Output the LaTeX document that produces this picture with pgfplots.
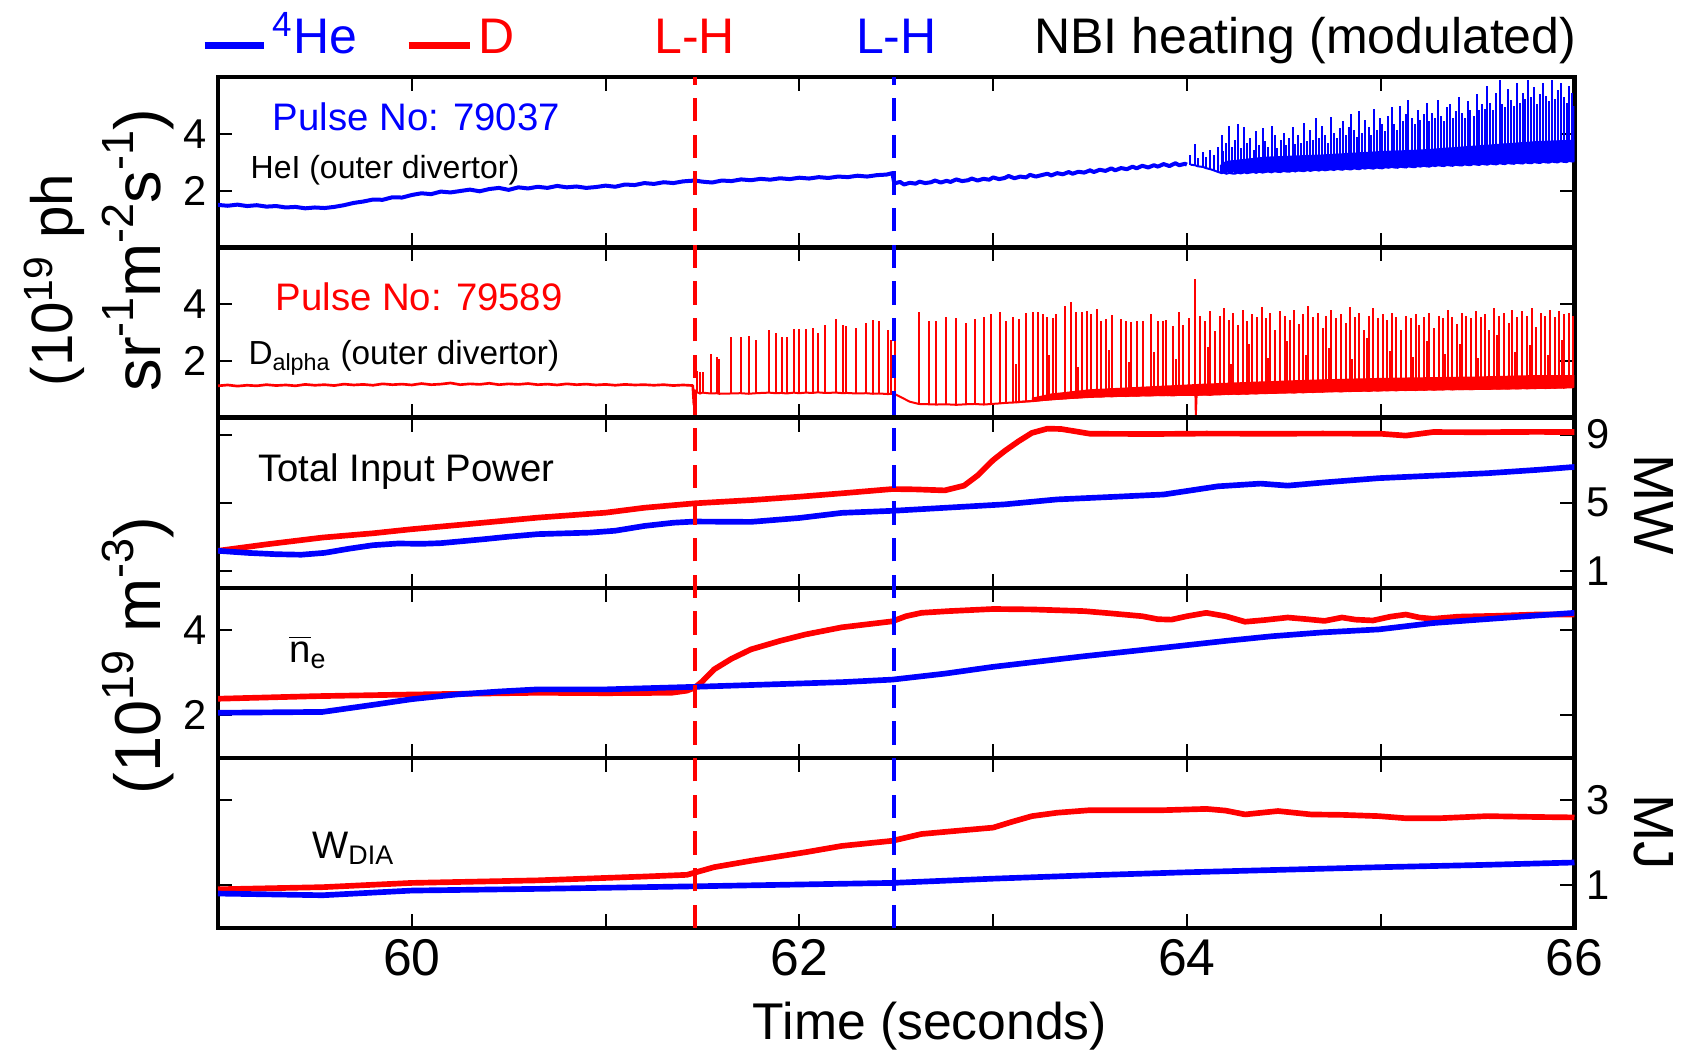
\documentclass[border=0pt]{standalone}
\usepackage{fontspec}
\setmainfont{Liberation Sans}
\usepackage{pgfplots}
\usepackage{pgfplotstable}
\pgfplotsset{compat=1.18}

\newcommand\sups[1]{\raisebox{0.42em}{\fontsize{13.5}{14}\selectfont #1}}

\pgfplotsset{
 panel/.style={
  scale only axis, width=406.95pt, height=51.04pt,
  xmin=59, xmax=66,
  xtick={59,...,66}, xticklabels={},
  tick align=inside, tick pos=both,
  major tick length=4.2pt,
  tick style={black, line width=0.6pt},
  axis line style={line width=1.3pt},
  yticklabel style={font=\fontsize{12.5}{14}\selectfont},
  xticklabel style={font=\fontsize{15.5}{18}\selectfont},
  /pgf/number format/assume math mode=true,
  anchor=south west,
 },
 thickline/.style={line width=1.7pt, line join=round, mark=none},
 spikes/.style={mark=none, line width=0.6pt, error bars/.cd, y dir=plus, y explicit, error mark=none, error bar style={line width=0.6pt}},
}

% Panel 1 spikes (HeI): t, base, peak
\pgfplotstableread[row sep=\\]{
t b p\\
64.018 2.92 3.25\\ 64.041 2.90 3.66\\ 64.058 2.86 3.15\\ 64.083 2.84 3.35\\ 64.097 2.80 3.20\\
64.121 2.76 3.45\\ 64.138 2.72 3.25\\ 64.162 2.66 3.55\\ 64.179 2.62 3.95\\ 64.188 2.64 3.40\\
64.204 2.60 3.70\\ 64.219 2.63 4.30\\ 64.231 2.61 3.55\\ 64.248 2.60 3.80\\ 64.262 2.64 4.35\\
64.277 2.61 3.50\\ 64.296 2.65 4.25\\ 64.309 2.62 3.70\\ 64.325 2.64 3.85\\ 64.344 2.66 3.45\\
64.357 2.63 4.10\\ 64.373 2.67 3.60\\ 64.391 2.64 4.20\\ 64.404 2.66 3.75\\ 64.418 2.68 3.55\\
64.437 2.65 4.30\\ 64.452 2.69 3.95\\ 64.466 2.67 3.50\\ 64.483 2.66 3.80\\ 64.499 2.70 4.05\\
64.511 2.68 3.60\\ 64.528 2.67 3.85\\ 64.546 2.71 4.25\\ 64.559 2.68 3.65\\ 64.575 2.72 3.95\\
64.591 2.70 3.70\\ 64.604 2.69 4.40\\ 64.622 2.73 3.75\\ 64.637 2.70 4.15\\ 64.649 2.72 3.80\\
64.664 2.74 4.55\\ 64.681 2.71 3.85\\ 64.697 2.75 4.30\\ 64.712 2.72 3.95\\ 64.729 2.74 3.70\\
64.741 2.76 4.60\\ 64.758 2.73 4.05\\ 64.777 2.77 3.85\\ 64.791 2.75 4.20\\ 64.803 2.74 4.45\\
64.819 2.78 3.95\\ 64.834 2.76 4.25\\ 64.846 2.75 4.70\\ 64.862 2.79 4.15\\ 64.878 2.77 3.90\\
64.889 2.76 4.80\\ 64.905 2.80 4.05\\ 64.919 2.78 4.50\\ 64.937 2.81 4.25\\ 64.951 2.79 3.95\\
64.963 2.78 4.90\\ 64.979 2.82 4.15\\ 64.994 2.80 4.55\\ 65.008 2.79 4.35\\ 65.024 2.83 4.10\\
65.039 2.81 4.65\\ 65.057 2.84 4.95\\ 65.071 2.82 4.35\\ 65.086 2.81 4.15\\ 65.102 2.85 5.00\\
65.117 2.83 4.45\\ 65.131 2.82 4.70\\ 65.143 2.86 5.20\\ 65.159 2.84 4.55\\ 65.176 2.83 4.35\\
65.191 2.87 4.85\\ 65.204 2.85 4.50\\ 65.222 2.88 4.70\\ 65.238 2.86 5.10\\ 65.251 2.85 4.45\\
65.267 2.89 4.75\\ 65.281 2.87 4.55\\ 65.296 2.90 5.20\\ 65.313 2.88 4.65\\ 65.327 2.87 4.45\\
65.342 2.91 4.95\\ 65.358 2.89 5.05\\ 65.371 2.88 4.55\\ 65.386 2.92 4.80\\ 65.402 2.90 5.30\\
65.419 2.89 4.75\\ 65.433 2.93 4.55\\ 65.448 2.91 5.15\\ 65.462 2.90 4.85\\ 65.479 2.94 4.65\\
65.496 2.92 5.40\\ 65.509 2.91 4.85\\ 65.523 2.95 5.05\\ 65.538 2.93 4.90\\ 65.551 2.92 5.70\\
65.566 2.96 5.10\\ 65.582 2.94 4.85\\ 65.597 2.93 5.45\\ 65.613 2.97 5.90\\ 65.628 2.95 5.05\\
65.641 2.94 4.95\\ 65.657 2.98 5.60\\ 65.672 2.96 5.20\\ 65.688 2.95 5.00\\ 65.701 2.99 5.80\\
65.717 2.97 5.10\\ 65.733 2.96 5.45\\ 65.746 3.00 5.25\\ 65.761 2.98 5.90\\ 65.778 2.97 5.30\\
65.792 3.01 5.65\\ 65.807 2.99 5.05\\ 65.823 2.98 5.40\\ 65.838 3.02 5.80\\ 65.852 3.00 5.35\\
65.869 2.99 5.15\\ 65.884 3.03 5.90\\ 65.897 3.01 5.25\\ 65.913 3.00 5.55\\ 65.928 3.04 5.80\\
65.944 3.02 5.30\\ 65.959 3.01 5.10\\ 65.972 3.05 5.70\\ 65.988 3.03 5.45\\ 66.000 3.04 5.00\\
}\spone

% Panel 2 spikes (D alpha): t, base, peak
\pgfplotstableread[row sep=\\]{
t b p\\
61.470 0.90 1.66\\ 61.487 0.85 1.60\\ 61.501 0.88 1.60\\ 61.542 0.85 2.26\\ 61.573 0.86 2.14\\
61.587 0.84 2.08\\ 61.645 0.85 2.85\\ 61.697 0.86 2.83\\ 61.739 0.84 2.89\\ 61.776 0.86 2.73\\
61.844 0.88 3.09\\ 61.879 0.86 2.97\\ 61.908 0.87 2.83\\ 61.934 0.85 2.85\\ 61.971 0.88 3.12\\
61.999 0.86 3.12\\ 62.033 0.88 3.11\\ 62.068 0.87 3.15\\ 62.095 0.89 2.97\\ 62.131 0.87 3.27\\
62.191 0.88 3.48\\ 62.226 0.86 3.27\\ 62.243 0.87 3.23\\ 62.294 0.85 3.15\\ 62.346 0.86 3.33\\
62.380 0.84 3.44\\ 62.411 0.85 3.39\\ 62.458 0.83 3.09\\ 62.473 0.84 2.73\\ 62.495 0.82 3.30\\
62.530 0.70 0.70\\ 62.570 0.56 0.56\\
62.617 0.48 3.72\\ 62.667 0.47 3.41\\ 62.707 0.46 3.41\\ 62.755 0.47 3.54\\ 62.810 0.45 3.52\\
62.861 0.47 3.33\\ 62.904 0.48 3.48\\ 62.952 0.46 3.54\\ 62.990 0.48 3.66\\ 63.033 0.50 3.72\\
63.067 0.52 3.39\\ 63.102 0.53 3.54\\ 63.136 0.55 3.48\\ 63.171 0.57 3.68\\ 63.205 0.58 3.71\\
63.231 0.60 3.74\\ 63.256 0.62 3.66\\ 63.277 0.63 3.56\\ 63.308 0.65 3.50\\ 63.325 0.66 3.66\\
63.373 0.68 3.95\\ 63.402 0.70 4.07\\ 63.428 0.70 3.71\\ 63.459 0.72 3.71\\ 63.483 0.73 3.76\\
63.505 0.74 3.66\\ 63.535 0.75 3.82\\ 63.557 0.74 3.41\\ 63.583 0.76 3.48\\ 63.614 0.75 3.63\\
63.660 0.77 3.48\\ 63.686 0.76 3.39\\ 63.712 0.78 3.37\\ 63.741 0.77 3.39\\ 63.772 0.79 3.41\\
63.815 0.78 3.66\\ 63.849 0.80 3.41\\ 63.875 0.79 3.41\\ 63.892 0.80 3.44\\ 63.930 0.78 3.23\\
63.961 0.81 3.72\\ 63.978 0.80 3.27\\ 64.010 0.80 3.50\\ 64.044 0.80 4.87\\ 64.046 0.10 0.10\\
64.050 0.80 0.80\\
64.070 0.81 3.60\\ 64.095 0.82 3.40\\ 64.120 0.80 3.75\\ 64.145 0.83 3.05\\ 64.170 0.82 3.60\\
64.190 0.84 3.85\\ 64.215 0.83 3.45\\ 64.240 0.85 3.70\\ 64.265 0.83 3.25\\ 64.290 0.86 3.80\\
64.310 0.84 3.40\\ 64.335 0.87 3.65\\ 64.360 0.85 3.55\\ 64.385 0.88 3.90\\ 64.410 0.86 3.50\\
64.430 0.88 3.70\\ 64.455 0.87 3.10\\ 64.480 0.89 3.75\\ 64.505 0.88 3.60\\ 64.530 0.90 3.45\\
64.555 0.88 3.80\\ 64.580 0.91 3.30\\ 64.600 0.89 3.65\\ 64.625 0.92 3.95\\ 64.650 0.90 3.55\\
64.675 0.92 3.70\\ 64.700 0.91 3.15\\ 64.720 0.93 3.60\\ 64.745 0.92 3.80\\ 64.770 0.94 3.50\\
64.795 0.92 3.65\\ 64.820 0.95 3.35\\ 64.840 0.93 3.90\\ 64.865 0.95 3.55\\ 64.890 0.94 3.70\\
64.915 0.96 3.10\\ 64.940 0.94 3.60\\ 64.960 0.97 3.85\\ 64.985 0.95 3.50\\ 65.010 0.97 3.65\\
65.035 0.96 3.45\\ 65.060 0.98 3.70\\ 65.080 0.96 3.55\\ 65.105 0.98 3.10\\ 65.130 0.97 3.60\\
65.155 0.99 3.50\\ 65.180 0.97 3.65\\ 65.200 0.99 3.25\\ 65.225 0.98 3.55\\ 65.250 1.00 3.70\\
65.275 0.98 3.15\\ 65.300 1.00 3.60\\ 65.320 0.99 3.50\\ 65.345 1.01 3.80\\ 65.370 0.99 3.55\\
65.395 1.01 3.30\\ 65.420 1.00 3.70\\ 65.440 1.02 3.60\\ 65.465 1.00 3.50\\ 65.490 1.02 3.75\\
65.515 1.01 3.55\\ 65.540 1.03 3.65\\ 65.560 1.01 3.10\\ 65.585 1.03 3.85\\ 65.610 1.02 3.60\\
65.635 1.04 3.70\\ 65.660 1.02 3.35\\ 65.680 1.04 3.80\\ 65.705 1.03 3.55\\ 65.730 1.05 3.75\\
65.755 1.03 3.60\\ 65.780 1.05 3.85\\ 65.800 1.04 3.20\\ 65.825 1.06 3.70\\ 65.850 1.04 3.60\\
65.875 1.06 3.80\\ 65.900 1.05 3.55\\ 65.920 1.07 3.75\\ 65.945 1.05 3.65\\ 65.970 1.07 3.70\\
65.990 1.06 3.60\\
}\sptwo

% Panel 2 smaller spikes in between
\pgfplotstableread[row sep=\\]{
t b p\\
63.120 0.54 1.90\\ 63.290 0.64 2.20\\ 63.440 0.71 1.80\\ 63.600 0.76 2.40\\ 63.700 0.77 1.95\\
63.830 0.79 2.30\\ 63.945 0.80 2.05\\ 64.107 0.81 2.50\\ 64.228 0.84 1.90\\ 64.322 0.85 2.60\\
64.420 0.87 2.10\\ 64.517 0.89 2.70\\ 64.612 0.90 2.20\\ 64.733 0.93 2.45\\ 64.853 0.94 2.05\\
64.928 0.95 2.80\\ 65.048 0.97 2.35\\ 65.168 0.98 2.15\\ 65.238 0.99 2.70\\ 65.333 1.00 2.25\\
65.408 1.00 2.60\\ 65.502 1.01 2.10\\ 65.598 1.02 2.90\\ 65.693 1.03 2.30\\ 65.768 1.04 2.55\\
65.862 1.05 2.20\\ 65.933 1.06 2.75\\
}\sptwosmall

\begin{document}
\begin{tikzpicture}
\path[use as bounding box] (-65.4pt,-36.9pt) rectangle (439.8pt,278.4pt);

% ---------------- Panel 1: HeI ----------------
\begin{axis}[panel, at={(0pt,204.16pt)}, ymin=0, ymax=6, ytick={2,4}, yticklabel pos=left]
\addplot[blue, line width=1.2pt, mark=none, line join=round] coordinates {
(59.00,1.50) (59.05,1.47) (59.10,1.51) (59.15,1.46) (59.20,1.49) (59.25,1.44) (59.30,1.46) (59.35,1.41)
(59.40,1.43) (59.45,1.38) (59.50,1.41) (59.55,1.39) (59.60,1.43) (59.65,1.49) (59.70,1.57) (59.75,1.62)
(59.80,1.69) (59.85,1.68) (59.90,1.77) (59.95,1.76) (60.00,1.85) (60.05,1.91) (60.10,1.88) (60.15,1.97)
(60.20,1.94) (60.25,1.99) (60.30,2.04) (60.35,1.98) (60.40,2.06) (60.45,2.10) (60.50,2.03) (60.55,2.12)
(60.60,2.08) (60.65,2.14) (60.70,2.10) (60.75,2.17) (60.80,2.12) (60.85,2.15) (60.90,2.10) (60.95,2.13)
(61.00,2.18) (61.05,2.14) (61.10,2.22) (61.15,2.20) (61.20,2.27) (61.25,2.24) (61.30,2.30) (61.35,2.27)
(61.40,2.33) (61.46,2.36) (61.50,2.32) (61.55,2.29) (61.60,2.36) (61.65,2.34) (61.70,2.40) (61.75,2.37)
(61.80,2.42) (61.85,2.39) (61.90,2.44) (61.95,2.41) (62.00,2.46) (62.05,2.43) (62.10,2.48) (62.15,2.45)
(62.20,2.50) (62.25,2.48) (62.30,2.53) (62.35,2.50) (62.40,2.55) (62.45,2.57) (62.48,2.62) (62.49,2.26)
(62.52,2.31) (62.54,2.22) (62.57,2.28) (62.60,2.25) (62.62,2.32) (62.65,2.27) (62.68,2.30) (62.70,2.36)
(62.73,2.29) (62.76,2.35) (62.78,2.31) (62.81,2.40) (62.84,2.34) (62.87,2.37) (62.89,2.43) (62.92,2.36)
(62.95,2.42) (62.98,2.39) (63.00,2.47) (63.03,2.41) (63.06,2.45) (63.08,2.52) (63.11,2.44) (63.14,2.50)
(63.17,2.47) (63.19,2.56) (63.22,2.50) (63.25,2.55) (63.28,2.60) (63.30,2.54) (63.33,2.62) (63.36,2.58)
(63.39,2.66) (63.41,2.60) (63.44,2.67) (63.47,2.64) (63.50,2.72) (63.52,2.66) (63.55,2.74) (63.58,2.70)
(63.61,2.79) (63.63,2.72) (63.66,2.80) (63.69,2.76) (63.72,2.85) (63.74,2.79) (63.77,2.88) (63.80,2.82)
(63.83,2.90) (63.85,2.85) (63.88,2.94) (63.91,2.87) (63.94,2.97) (63.96,2.90) (63.99,2.95) (64.00,2.92)
};
\addplot[blue, fill=blue, draw=none] coordinates {
(64.17,2.66) (64.30,2.63) (64.60,2.69) (65.00,2.80) (65.40,2.90) (65.80,3.00) (66.00,3.04)
(66.00,3.80) (65.80,3.75) (65.50,3.60) (65.20,3.45) (65.00,3.40) (64.70,3.28) (64.40,3.20) (64.20,3.05) (64.17,2.90)
} -- cycle;
\addplot[blue, spikes] table[x=t, y=b, y error expr=\thisrow{p}-\thisrow{b}] {\spone};
\node[anchor=west, blue, inner sep=0pt, font=\fontsize{11.5}{13}\selectfont] at (axis description cs:0.040,0.77) {Pulse No: 79037};
\node[anchor=west, inner sep=0pt, font=\fontsize{9.6}{11}\selectfont] at (axis description cs:0.0236,0.453) {HeI (outer divertor)};
\end{axis}

% ---------------- Panel 2: D alpha ----------------
\begin{axis}[panel, at={(0pt,153.12pt)}, ymin=0, ymax=6, ytick={2,4}, yticklabel pos=left]
\addplot[red, line width=0.8pt, mark=none, line join=round] coordinates {
(59.00,1.12) (59.05,1.15) (59.10,1.11) (59.15,1.14) (59.20,1.12) (59.25,1.16) (59.30,1.13) (59.35,1.15)
(59.40,1.12) (59.45,1.17) (59.50,1.14) (59.55,1.16) (59.60,1.13) (59.65,1.18) (59.70,1.15) (59.75,1.17)
(59.80,1.14) (59.85,1.19) (59.90,1.16) (59.95,1.18) (60.00,1.15) (60.05,1.20) (60.10,1.16) (60.15,1.18)
(60.20,1.22) (60.25,1.16) (60.30,1.19) (60.35,1.17) (60.40,1.21) (60.45,1.16) (60.50,1.19) (60.55,1.17)
(60.60,1.20) (60.65,1.16) (60.70,1.18) (60.75,1.15) (60.80,1.19) (60.85,1.16) (60.90,1.18) (60.95,1.15)
(61.00,1.17) (61.05,1.14) (61.10,1.17) (61.15,1.15) (61.20,1.16) (61.25,1.14) (61.30,1.16) (61.35,1.13)
(61.40,1.15) (61.45,1.13) (61.456,0.45) (61.462,0.95) (61.470,0.90)
};
\addplot[red, fill=red, draw=none] coordinates {
(63.20,0.60) (63.40,0.70) (63.60,0.76) (63.80,0.79) (64.00,0.80) (64.30,0.84) (64.60,0.89) (65.00,0.96)
(65.40,1.00) (65.80,1.04) (66.00,1.06) (66.00,1.50) (65.80,1.50) (65.50,1.45) (65.20,1.42) (65.00,1.40)
(64.70,1.35) (64.40,1.28) (64.10,1.20) (63.80,1.10) (63.50,1.00) (63.30,0.85) (63.20,0.70)
} -- cycle;
\addplot[red, spikes] table[x=t, y=b, y error expr=\thisrow{p}-\thisrow{b}] {\sptwosmall};
\addplot[red, spikes] table[x=t, y=b, y error expr=\thisrow{p}-\thisrow{b}] {\sptwo};
\node[anchor=west, red, inner sep=0pt, font=\fontsize{11.5}{13}\selectfont] at (axis description cs:0.042,0.71) {Pulse No: 79589};
\node[anchor=base west, inner sep=0pt, font=\fontsize{10}{12}\selectfont] at (axis description cs:0.022,0.31) {D\textsubscript{alpha} (outer divertor)};
\end{axis}

% ---------------- Panel 3: Power ----------------
\begin{axis}[panel, at={(0pt,102.08pt)}, ymin=0, ymax=10, ytick={1,5,9}, yticklabel pos=right]
\addplot[red, thickline] coordinates {
(59.00,2.17) (59.25,2.55) (59.54,2.95) (59.80,3.20) (60.00,3.44) (60.30,3.75) (60.65,4.12) (61.00,4.41)
(61.20,4.70) (61.46,4.96) (61.75,5.15) (62.00,5.35) (62.22,5.55) (62.48,5.80) (62.60,5.78) (62.75,5.72)
(62.85,6.00) (62.92,6.60) (63.00,7.50) (63.06,8.04) (63.13,8.60) (63.20,9.10) (63.28,9.35) (63.35,9.33)
(63.42,9.20) (63.50,9.05) (63.70,9.04) (63.88,9.04) (64.10,9.06) (64.44,9.05) (64.70,9.06) (65.00,9.05)
(65.13,8.94) (65.27,9.15) (65.50,9.14) (65.80,9.16) (66.00,9.15)
};
\addplot[blue, thickline] coordinates {
(59.00,2.17) (59.15,2.05) (59.30,1.97) (59.43,1.94) (59.55,2.05) (59.68,2.30) (59.80,2.50) (59.93,2.60)
(60.05,2.58) (60.15,2.62) (60.37,2.85) (60.50,3.00) (60.65,3.15) (60.92,3.24) (61.05,3.35) (61.20,3.63)
(61.35,3.82) (61.46,3.89) (61.75,3.87) (62.00,4.10) (62.22,4.40) (62.48,4.52) (62.77,4.71) (63.06,4.90)
(63.33,5.19) (63.60,5.33) (63.88,5.48) (64.16,5.96) (64.38,6.12) (64.52,6.00) (64.71,6.19) (64.99,6.44)
(65.30,6.60) (65.55,6.73) (65.80,6.92) (66.00,7.10)
};
\node[anchor=west, inner sep=0pt, font=\fontsize{11.5}{13}\selectfont] at (axis description cs:0.029,0.68) {Total Input Power};
\end{axis}

% ---------------- Panel 4: density ----------------
\begin{axis}[panel, at={(0pt,51.04pt)}, ymin=1, ymax=5, ytick={2,4}, yticklabel pos=left]
\addplot[red, thickline] coordinates {
(59.00,2.39) (59.50,2.45) (60.00,2.49) (60.65,2.53) (61.00,2.52) (61.34,2.53) (61.42,2.58) (61.46,2.65)
(61.50,2.80) (61.56,3.08) (61.65,3.33) (61.75,3.55) (61.90,3.75) (62.03,3.90) (62.22,4.07) (62.48,4.21)
(62.55,4.33) (62.63,4.41) (62.77,4.45) (63.00,4.50) (63.20,4.49) (63.47,4.45) (63.60,4.40) (63.77,4.33)
(63.85,4.26) (63.92,4.25) (64.00,4.33) (64.10,4.41) (64.20,4.33) (64.30,4.20) (64.40,4.24) (64.52,4.30)
(64.62,4.26) (64.71,4.22) (64.80,4.30) (64.87,4.25) (64.96,4.23) (65.05,4.32) (65.13,4.37) (65.20,4.30)
(65.27,4.27) (65.40,4.32) (65.60,4.34) (65.80,4.37) (66.00,4.37)
};
\addplot[blue, thickline] coordinates {
(59.00,2.06) (59.54,2.08) (59.82,2.26) (60.00,2.38) (60.23,2.49) (60.45,2.56) (60.65,2.61) (61.00,2.61)
(61.46,2.67) (61.80,2.72) (62.22,2.78) (62.48,2.84) (62.75,2.98) (63.00,3.14) (63.47,3.39) (63.88,3.59)
(64.20,3.75) (64.44,3.86) (64.70,3.95) (64.99,4.02) (65.27,4.17) (65.60,4.28) (66.00,4.41)
};
\node[anchor=west, inner sep=0pt, font=\fontsize{11.5}{13}\selectfont] at (axis description cs:0.052,0.62) {$\overline{\mbox{n}}$\textsubscript{e}};
\end{axis}

% ---------------- Panel 5: stored energy ----------------
\begin{axis}[panel, at={(0pt,0pt)}, ymin=0, ymax=4, ytick={1,3}, yticklabel pos=right,
  xticklabels={,60,,62,,64,,66}, clip=false]
\addplot[red, thickline] coordinates {
(59.00,0.91) (59.54,0.96) (60.00,1.06) (60.65,1.12) (61.20,1.21) (61.42,1.25) (61.56,1.43) (61.75,1.58)
(62.03,1.78) (62.22,1.93) (62.48,2.05) (62.63,2.21) (62.85,2.30) (63.00,2.36) (63.10,2.50) (63.20,2.63)
(63.33,2.71) (63.50,2.77) (63.88,2.77) (64.10,2.80) (64.20,2.76) (64.30,2.67) (64.47,2.75) (64.64,2.67)
(64.80,2.66) (64.99,2.63) (65.13,2.58) (65.30,2.58) (65.55,2.63) (65.80,2.61) (66.00,2.60)
};
\addplot[blue, thickline] coordinates {
(59.00,0.81) (59.54,0.77) (60.00,0.88) (60.65,0.92) (61.46,0.98) (62.22,1.04) (62.48,1.06) (63.00,1.16)
(63.50,1.24) (64.00,1.31) (64.50,1.37) (65.00,1.43) (65.50,1.48) (66.00,1.54)
};
\node[anchor=west, inner sep=0pt, font=\fontsize{11.5}{13}\selectfont] at (axis description cs:0.069,0.47) {W\textsubscript{DIA}};
% L-H transition markers spanning all five panels (panel 5 units: 4 per panel)
\addplot[red, line width=1.3pt, mark=none, dash pattern=on 7pt off 4pt] coordinates {(61.46,0) (61.46,20)};
\addplot[blue, line width=1.3pt, mark=none, dash pattern=on 7pt off 4pt] coordinates {(62.49,0) (62.49,20)};
\end{axis}

% ---------------- Labels around the panels ----------------
\node[anchor=base west, inner sep=0pt, blue, font=\fontsize{15}{18}\selectfont] at (-4.2pt,262.3pt) {\rule[1.5pt]{17.7pt}{2pt}\,\textsuperscript{4}He};
\node[anchor=base west, inner sep=0pt, red, font=\fontsize{15}{18}\selectfont] at (57pt,262.3pt) {\rule[1.5pt]{18.3pt}{2pt}\,D};
\node[anchor=base, inner sep=0pt, red, font=\fontsize{15}{18}\selectfont] at (143pt,262.3pt) {L-H};
\node[anchor=base, inner sep=0pt, blue, font=\fontsize{15}{18}\selectfont] at (203.5pt,262.3pt) {L-H};
\node[anchor=base east, inner sep=0pt, font=\fontsize{15}{18}\selectfont] at (407.7pt,262.3pt) {NBI heating (modulated)};

\node[rotate=90, anchor=base west, inner sep=0pt, font=\fontsize{17.5}{20}\selectfont] at (-43.5pt,162.3pt) {(10\textsuperscript{19} ph};
\node[rotate=90, anchor=base west, inner sep=0pt, font=\fontsize{19.5}{22}\selectfont] at (-17.1pt,160.8pt) {sr\sups{-1}m\sups{-2}s\sups{-1})};
\node[rotate=90, anchor=base west, inner sep=0pt, font=\fontsize{19.5}{22}\selectfont] at (-17.1pt,39.9pt) {(10\sups{19} m\sups{-3})};

\node[rotate=-90, inner sep=0pt, font=\fontsize{17}{20}\selectfont] at (430.8pt,126.9pt) {MW};
\node[rotate=-90, inner sep=0pt, font=\fontsize{17}{20}\selectfont] at (430.8pt,28.8pt) {MJ};

\node[anchor=base, inner sep=0pt, font=\fontsize{15.5}{18}\selectfont] at (213.6pt,-33.5pt) {Time (seconds)};
\end{tikzpicture}
\end{document}
